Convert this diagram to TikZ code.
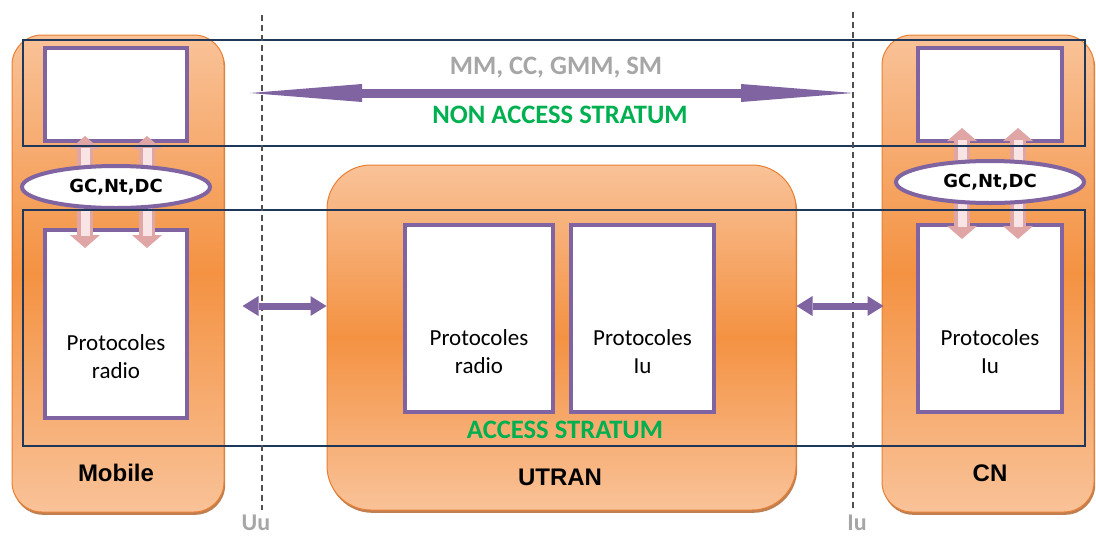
\documentclass[tikz,border=0pt]{standalone}
\usepackage{fontspec}
\setmainfont{Carlito}
\newfontfamily\arialfont{Liberation Sans}
\newfontfamily\verdfont{DejaVu Sans}
\usepackage{xcolor}
\usetikzlibrary{shapes.geometric, positioning, shadows, arrows.meta}

\definecolor{orlight}{RGB}{249,194,152}
\definecolor{ordark}{RGB}{244,146,66}
\definecolor{oredge}{RGB}{232,128,52}
\definecolor{lavender}{RGB}{128,100,162}
\definecolor{navy}{RGB}{31,56,90}
\definecolor{stratgreen}{RGB}{0,176,80}
\definecolor{labelgray}{RGB}{166,166,166}
\definecolor{pinkedge}{RGB}{224,165,165}
\definecolor{pinkcore}{RGB}{248,228,228}
\definecolor{dashgray}{RGB}{80,80,80}

\pgfdeclarelayer{back}
\pgfdeclarelayer{links}
\pgfsetlayers{back,links,main}

\tikzset{
	entity/.style={rectangle, rounded corners=15pt, top color=orlight, bottom color=orlight, middle color=ordark, draw=oredge, line width=0.5pt, drop shadow={shadow xshift=0.6pt, shadow yshift=-1.4pt, fill=oredge!75!black, opacity=0.8}},
	protobox/.style={rectangle, draw=lavender, line width=2pt, fill=white, inner sep=0pt},
	prototext/.style={align=center, font=\fontsize{11.5}{14}\selectfont},
	sap/.style={ellipse, draw=lavender, line width=2pt, fill=white, inner sep=0pt, minimum width=94pt, minimum height=21pt, font=\verdfont\bfseries\fontsize{9}{10}\selectfont},
	entlabel/.style={font=\arialfont\bfseries\fontsize{12}{14}\selectfont},
	stratlabel/.style={text=stratgreen, font=\bfseries\fontsize{13.3}{15}\selectfont},
	iflabel/.style={text=labelgray, font=\bfseries\fontsize{12}{14}\selectfont},
	stratum/.style={draw=navy, line width=1pt},
	ifline/.style={dashgray, line width=0.6pt, dash pattern=on 3pt off 2pt},
	pinkarrow/.style={pinkedge, line width=8pt, -{Triangle[width=15pt,length=6.5pt,line width=0pt]}},
	pinkinner/.style={pinkcore, line width=4.5pt, shorten >=6pt},
	linkarrow/.style={lavender, line width=3.5pt, {Triangle[width=10pt,length=8pt,line width=0pt]}-{Triangle[width=10pt,length=8pt,line width=0pt]}},
	nasarrow/.style={lavender, line width=4.5pt, {Triangle[width=9pt,length=56pt,line width=0pt]}-{Triangle[width=9pt,length=56pt,line width=0pt]}},
}

\begin{document}
\begin{tikzpicture}[x=0.5pt, y=-0.5pt]
	\useasboundingbox (0,0) rectangle (1096,536);

	\begin{pgfonlayer}{back}
		\node[entity, minimum width=106pt, minimum height=238.5pt] (mobile) at (118,273.5) {};
		\node[entity, rounded corners=22pt, minimum width=234.5pt, minimum height=172.5pt] (utran) at (561.5,337.5) {};
		\node[entity, minimum width=106pt, minimum height=238.5pt] (cn) at (988,273.5) {};

		\node[protobox, minimum width=71pt, minimum height=46.5pt] (mtop) at (116,94.5) {};
		\node[protobox, minimum width=71pt, minimum height=94pt] (mbot) at (116,324) {};
		\node[protobox, minimum width=74pt, minimum height=93.5pt] (uradio) at (479,318.5) {};
		\node[protobox, minimum width=71.5pt, minimum height=93.5pt] (uiu) at (642.5,318.5) {};
		\node[protobox, minimum width=72pt, minimum height=46.5pt] (ctop) at (990,94.5) {};
		\node[protobox, minimum width=72pt, minimum height=93.5pt] (cbot) at (990,318.5) {};
	\end{pgfonlayer}

	\node[sap] (mel) at (116,187) {GC,Nt,DC};
	\node[sap] (cel) at (990,182) {GC,Nt,DC};

	\begin{pgfonlayer}{links}
		\foreach \dx in {-15.5,15.5} {
			\draw[pinkarrow] ([xshift=\dx pt,yshift=-4pt]mel.north) -- ([xshift=\dx pt,yshift=3.5pt]mtop.south);
			\draw[pinkinner] ([xshift=\dx pt,yshift=-4pt]mel.north) -- ([xshift=\dx pt,yshift=3.5pt]mtop.south);
			\draw[pinkarrow] ([xshift=\dx pt,yshift=4pt]mel.south) -- ([xshift=\dx pt,yshift=-10pt]mbot.north);
			\draw[pinkinner] ([xshift=\dx pt,yshift=4pt]mel.south) -- ([xshift=\dx pt,yshift=-10pt]mbot.north);
		}
		\foreach \dx in {-14,14} {
			\draw[pinkarrow] ([xshift=\dx pt,yshift=-4pt]cel.north) -- ([xshift=\dx pt,yshift=7.5pt]ctop.south);
			\draw[pinkinner] ([xshift=\dx pt,yshift=-4pt]cel.north) -- ([xshift=\dx pt,yshift=7.5pt]ctop.south);
			\draw[pinkarrow] ([xshift=\dx pt,yshift=4pt]cel.south) -- ([xshift=\dx pt,yshift=-8pt]cbot.north);
			\draw[pinkinner] ([xshift=\dx pt,yshift=4pt]cel.south) -- ([xshift=\dx pt,yshift=-8pt]cbot.north);
		}
	\end{pgfonlayer}

	\node[prototext] (mradiotxt) at (116,357) {Protocoles\\radio};
	\node[prototext] (uradiotxt) at (479,352) {Protocoles\\radio};
	\node[prototext] (uiutxt) at (642.5,352) {Protocoles\\Iu};
	\node[prototext] (ciutxt) at (990,352) {Protocoles\\Iu};

	\draw[stratum] (23,40) rectangle (1085,146);
	\draw[stratum] (23,210) rectangle (1085,446);

	\coordinate (uutop) at (262,15);
	\coordinate (uubot) at (262,510);
	\coordinate (iutop) at (853,12);
	\coordinate (iubot) at (853,510);
	\draw[ifline] (uutop) -- (uubot);
	\draw[ifline] (iutop) -- (iubot);
	\node[iflabel] (uu) at (256,523) {Uu};
	\node[iflabel] (iu) at (857,523) {Iu};

	\coordinate (nasL) at (250,93);
	\coordinate (nasR) at (853,93);
	\draw[nasarrow] (nasL) -- (nasR);
	\node[text=labelgray, font=\bfseries\fontsize{13.3}{15}\selectfont] (nasproto) at (556,68) {MM, CC, GMM, SM};
	\node[stratlabel] (nas) at (560,115) {NON ACCESS STRATUM};
	\node[stratlabel] (as) at (565,430) {ACCESS STRATUM};

	\draw[linkarrow] ([xshift=9pt,yshift=-16.25pt]mobile.east) -- ([yshift=15.75pt]utran.west);
	\draw[linkarrow] ([yshift=15.75pt]utran.east) -- ([xshift=1pt,yshift=-16.25pt]cn.west);

	\node[entlabel] (mobiletxt) at (116,473) {Mobile};
	\node[entlabel] (utrantxt) at (560,477) {UTRAN};
	\node[entlabel] (cntxt) at (990,473) {CN};
\end{tikzpicture}
\end{document}
